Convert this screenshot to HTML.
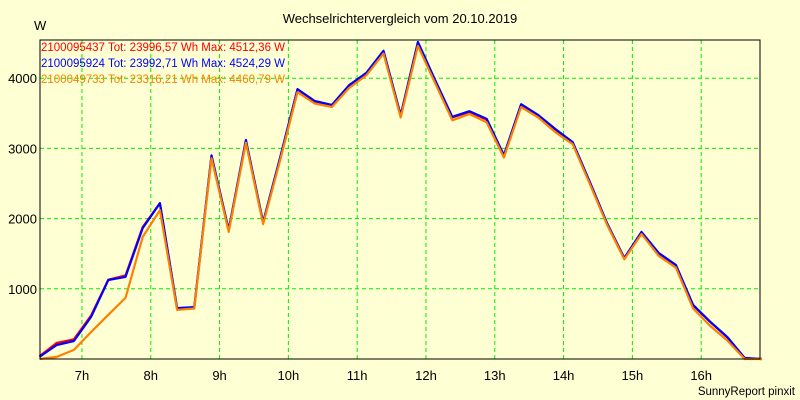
<!DOCTYPE html>
<html><head><meta charset="utf-8"><style>
html,body{margin:0;padding:0;background:#ffffd4;}
svg{display:block;font-family:"Liberation Sans",sans-serif;}
</style></head><body>
<svg id="chart" width="800" height="400">
<rect x="0" y="0" width="800" height="400" fill="#ffffd4"/>
<text x="400" y="23" text-anchor="middle" font-size="13">Wechselrichtervergleich vom 20.10.2019</text>
<text x="34" y="30" font-size="13">W</text>
<g id="grid"></g>
<g id="series"></g>
<g id="axes"></g>
<g font-size="11.5">
<text x="41" y="51" fill="#ff0000">2100095437 Tot: 23996,57 Wh Max: 4512,36 W</text>
<text x="41" y="67" fill="#0000ff">2100095924 Tot: 23992,71 Wh Max: 4524,29 W</text>
<text x="41" y="83" fill="#ff8000">2100049733 Tot: 23316,21 Wh Max: 4460,79 W</text>
</g>
<text x="795" y="395" text-anchor="end" font-size="11.5">SunnyReport pinxit</text>
</svg>
<script>
const times = ["6:23","6:38","6:53","7:08","7:23","7:38","7:53","8:08","8:23","8:38","8:53","9:08","9:23","9:38","9:53","10:08","10:23","10:38","10:53","11:08","11:23","11:38","11:53","12:08","12:23","12:38","12:53","13:08","13:23","13:38","13:53","14:08","14:23","14:38","14:53","15:08","15:23","15:38","15:53","16:08","16:23","16:38","16:53"];
const redValues = [40,230,280,620,1130,1190,1880,2220,720,735,2890,1830,3110,1940,2870,3840,3670,3610,3890,4065,4380,3465,4505,3965,3440,3520,3410,2895,3620,3465,3265,3080,2510,1925,1430,1800,1500,1335,765,525,305,10,0];
const blueValues = [30,200,256,600,1125,1170,1865,2220,725,740,2900,1840,3120,1950,2880,3845,3675,3620,3900,4075,4390,3475,4515,3975,3450,3530,3420,2905,3630,3475,3275,3090,2520,1935,1440,1810,1510,1340,770,530,310,15,0];
const orangeValues = [0,30,130,385,630,870,1740,2120,700,720,2860,1810,3080,1920,2840,3800,3640,3590,3860,4040,4350,3440,4460,3930,3400,3490,3370,2870,3590,3440,3230,3060,2490,1910,1420,1780,1470,1300,720,470,260,0,0];
const yTicks = [1000,2000,3000,4000];
const xTicks = ["7h","8h","9h","10h","11h","12h","13h","14h","15h","16h"];

const NS="http://www.w3.org/2000/svg";
const L=40,R=760,T=40,B=359;
const xMin=6.39, xMax=16.855;
function hrs(s){const p=s.split(":");return +p[0]+(+p[1])/60;}
function x(t){return L+(t-xMin)/(xMax-xMin)*(R-L);}
function y(v){return B-v/1000*70.2;}
function mk(tag,attrs,parent){const e=document.createElementNS(NS,tag);for(const k in attrs)e.setAttribute(k,attrs[k]);parent.appendChild(e);return e;}
const grid=document.getElementById("grid"),axes=document.getElementById("axes"),series=document.getElementById("series");
yTicks.forEach(v=>{
  const l=mk("line",{x1:L,x2:R,y1:y(v),y2:y(v),stroke:"#00ee00","stroke-dasharray":"4,3","stroke-width":1},grid);
  
  
  const t=mk("text",{x:37,y:y(v)+5,"text-anchor":"end","font-size":13},axes);
  t.textContent=v;
  
  
});
xTicks.forEach(s=>{
  const h=parseInt(s);
  const l=mk("line",{x1:x(h),x2:x(h),y1:T,y2:B,stroke:"#00ee00","stroke-dasharray":"4,3","stroke-width":1},grid);
  
  
  const t=mk("text",{x:x(h),y:380,"text-anchor":"middle","font-size":13},axes);
  t.textContent=s;
  
  
});
const frame=mk("rect",{x:L,y:T,width:R-L,height:B-T,fill:"none",stroke:"#000","stroke-width":1},axes);


[[redValues,"#ff0000","series-red"],[blueValues,"#0000ff","series-blue"],[orangeValues,"#ff8000","series-orange"]].forEach(([vals,col,name])=>{
  const pts=vals.map((v,i)=>x(hrs(times[i])).toFixed(1)+","+y(v).toFixed(1)).join(" ");
  const p=mk("polyline",{points:pts,fill:"none",stroke:col,"stroke-width":2.2,"stroke-linejoin":"round"},series);
  
  
});
</script>
</body></html>
